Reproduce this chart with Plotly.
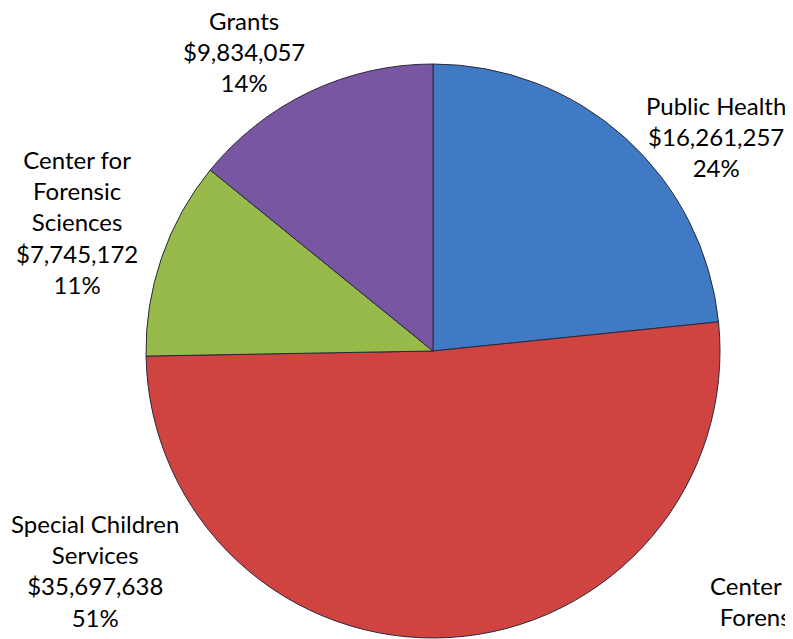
import plotly.graph_objects as go

categories = ["Public Health", "Special Children<br>Services", "Center for<br>Forensic<br>Sciences", "Grants"]
values = [16261257, 35697638, 7745172, 9834057]
percents = ["24%", "51%", "11%", "14%"]
colors = ["#4079C4", "#CF4340", "#97BA4A", "#7956A2"]
stray_label = "Center for<br>Forensic<br>Sciences"

OFF = 8  # page body margin
W, H = 793 - OFF, 639 - OFF
CX, CY, R = 433 - OFF, 351 - OFF, 287
# label block centres in screen pixels (layout only)
label_pos = [(716, 137), (95, 570), (77, 222), (244, 51)]

fig = go.Figure()
fig.add_trace(go.Pie(
    labels=[c.replace("<br>", " ") for c in categories],
    values=values,
    sort=False,
    direction="clockwise",
    rotation=0,
    textinfo="none",
    hoverinfo="label+value+percent",
    marker=dict(colors=colors, line=dict(color="#2a2a3a", width=1)),
    domain=dict(x=[(CX - R) / W, (CX + R) / W], y=[(H - CY - R) / H, (H - CY + R) / H]),
    showlegend=False,
))

font = dict(family="Lato, Carlito, Calibri, sans-serif", size=24, color="#000000")
for cat, v, p, (px, py) in zip(categories, values, percents, label_pos):
    fig.add_annotation(
        x=(px - OFF) / W, y=1 - (py - OFF) / H, xref="paper", yref="paper",
        text=f"{cat}<br>${v:,}<br>{p}", showarrow=False,
        xanchor="center", yanchor="middle", align="center", font=font,
        borderpad=0,
    )

fig.add_annotation(
    x=(764 - OFF) / W, y=1 - (570 - OFF) / H, xref="paper", yref="paper",
    text=stray_label, showarrow=False, xanchor="center", yanchor="top",
    align="center", font=font, borderpad=0,
)

fig.update_layout(
    width=W, height=H,
    margin=dict(l=0, r=0, t=0, b=0),
    paper_bgcolor="white", plot_bgcolor="white",
)

fig.write_html("out.html")
